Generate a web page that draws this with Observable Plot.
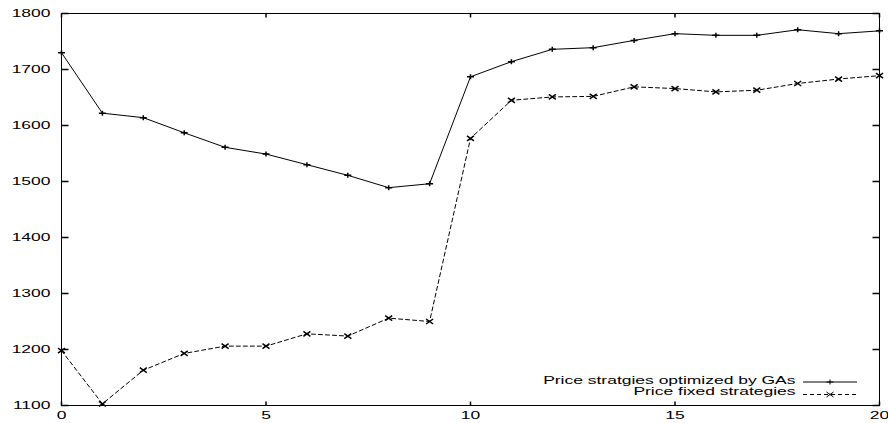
<!DOCTYPE html>
<html><head><meta charset="utf-8">
<script src="https://cdn.jsdelivr.net/npm/d3@7"></script>
<script src="https://cdn.jsdelivr.net/npm/@observablehq/plot@0.6"></script>
<style>html,body{margin:0;padding:0;background:#fff}#chart svg{display:block}</style>
</head><body><div id="chart"></div>
<script>
const generations = [0,1,2,3,4,5,6,7,8,9,10,11,12,13,14,15,16,17,18,19,20];
const gaPrices = [1730,1622,1614,1587,1561,1549,1530,1511,1489,1496,1687,1714,1736,1739,1752,1764,1761,1761,1771,1764,1769];
const fixedPrices = [1198,1103,1163,1193,1206,1206,1228,1224,1256,1250,1577,1645,1651,1652,1669,1666,1660,1663,1675,1683,1689];
const xTicks = [0,5,10,15,20];
const yTicks = [1100,1200,1300,1400,1500,1600,1700,1800];
const seriesNames = ["Price stratgies optimized by GAs", "Price fixed strategies"];

const gaRows = generations.map((g, i) => ({gen: g, price: gaPrices[i]}));
const fixedRows = generations.map((g, i) => ({gen: g, price: fixedPrices[i]}));

const plusSym = {draw(c){c.moveTo(-3.5,0);c.lineTo(3.5,0);c.moveTo(0,-2.5);c.lineTo(0,2.5);}};
const timesSym = {draw(c){c.moveTo(-3.5,-2.5);c.lineTo(3.5,2.5);c.moveTo(-3.5,2.5);c.lineTo(3.5,-2.5);}};
const tickInR = {draw(c){c.moveTo(0,0);c.lineTo(7,0);}};
const tickInL = {draw(c){c.moveTo(0,0);c.lineTo(-7,0);}};
const tickInD = {draw(c){c.moveTo(0,0);c.lineTo(0,4);}};
const tickInU = {draw(c){c.moveTo(0,0);c.lineTo(0,-4);}};

const legendSamples = (index, scales, values, dims) => {
  const g = d3.create("svg:g").attr("fill", "none").attr("stroke", "black").attr("stroke-width", 1);
  const xr = dims.width - dims.marginRight;
  const yb = dims.height - dims.marginBottom;
  const x1 = xr - 76, x2 = xr - 22, xm = (x1 + x2) / 2;
  const y1 = yb - 23, y2 = yb - 10.5;
  g.append("line").attr("x1", x1).attr("x2", x2).attr("y1", y1).attr("y2", y1);
  g.append("path").attr("d", `M${xm-3.5},${y1}H${xm+3.5}M${xm},${y1-2.5}V${y1+2.5}`);
  g.append("line").attr("x1", x1).attr("x2", x2).attr("y1", y2).attr("y2", y2).attr("stroke-dasharray", "4,3");
  g.append("path").attr("d", `M${xm-3.5},${y2-2.5}L${xm+3.5},${y2+2.5}M${xm-3.5},${y2+2.5}L${xm+3.5},${y2-2.5}`);
  return g.node();
};

const svg = Plot.plot({
  width: 888,
  height: 423,
  marginLeft: 61,
  marginRight: 9,
  marginTop: 13,
  marginBottom: 18,
  style: {fontFamily: "'Liberation Sans', Arial, sans-serif", fontSize: "11.5px", color: "black", background: "white"},
  x: {domain: [0, 20], label: null},
  y: {domain: [1100, 1800], label: null},
  marks: [
    Plot.frame({stroke: "black", strokeWidth: 1}),
    Plot.axisX(xTicks, {tickSize: 0, tickPadding: 5, tickFormat: d3.format("d")}),
    Plot.axisY(yTicks, {tickSize: 0, tickPadding: 11, tickFormat: d3.format("d")}),
    Plot.dot(yTicks, {y: d => d, frameAnchor: "left", symbol: tickInR, stroke: "black", fill: "none"}),
    Plot.dot(yTicks, {y: d => d, frameAnchor: "right", symbol: tickInL, stroke: "black", fill: "none"}),
    Plot.dot(xTicks, {x: d => d, frameAnchor: "top", symbol: tickInD, stroke: "black", fill: "none"}),
    Plot.dot(xTicks, {x: d => d, frameAnchor: "bottom", symbol: tickInU, stroke: "black", fill: "none"}),
    Plot.line(gaRows, {x: "gen", y: "price", stroke: "black", strokeWidth: 1}),
    Plot.line(fixedRows, {x: "gen", y: "price", stroke: "black", strokeWidth: 1, strokeDasharray: "4,3"}),
    Plot.dot(gaRows, {x: "gen", y: "price", symbol: plusSym, stroke: "black", fill: "none"}),
    Plot.dot(fixedRows, {x: "gen", y: "price", symbol: timesSym, stroke: "black", fill: "none"}),
    Plot.text([seriesNames[0]], {text: d => d, frameAnchor: "bottom-right", textAnchor: "end", dx: -84, dy: -22}),
    Plot.text([seriesNames[1]], {text: d => d, frameAnchor: "bottom-right", textAnchor: "end", dx: -84, dy: -10.5}),
    legendSamples
  ]
});

d3.select(svg).selectAll("text").each(function() {
  const t = this.getAttribute("transform") || "";
  const x = +this.getAttribute("x") || 0;
  const y = +this.getAttribute("y") || 0;
  this.setAttribute("transform", `${t} translate(${x},${y}) scale(1.52,1) translate(${-x},${-y})`);
});

document.getElementById("chart").append(svg);
</script>
</body></html>
